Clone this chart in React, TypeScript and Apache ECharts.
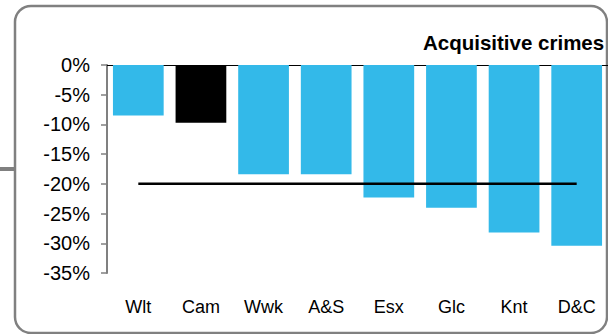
import React, { useEffect, useRef } from "react";
import * as echarts from "echarts";

const categories = ["Wlt", "Cam", "Wwk", "A&S", "Esx", "Glc", "Knt", "D&C"];
const values = [-8.5, -9.7, -18.4, -18.4, -22.3, -24.0, -28.2, -30.4];
const highlightIndex = 1;
const referenceLevel = -20;
const titleText = "Acquisitive crimes";
const yMin = -35;
const yMax = 0;
const yStep = 5;

export default function App() {
  const ref = useRef<HTMLDivElement>(null);
  useEffect(() => {
    if (!ref.current) return;
    const chart = echarts.init(ref.current, null, { renderer: "svg" });
    const font = "Liberation Sans, Arial, sans-serif";
    chart.setOption({
      animation: false,
      backgroundColor: "#ffffff",
      textStyle: { fontFamily: font },
      grid: { left: 107, top: 65, width: 504, height: 208 },
      graphic: [
        {
          type: "rect",
          shape: { x: 15, y: 6, width: 592, height: 327, r: 16 },
          style: { fill: "none", stroke: "#808080", lineWidth: 2.5 },
          z: 0,
        },
        {
          type: "rect",
          shape: { x: 0, y: 167, width: 15, height: 4 },
          style: { fill: "#808080" },
        },
        {
          type: "text",
          x: 423,
          y: 32,
          style: {
            text: titleText,
            font: `bold 20.5px ${font}`,
            fill: "#000",
            textVerticalAlign: "top",
          },
        },
      ],
      xAxis: [
        {
          type: "category",
          data: categories,
          position: "bottom",
          axisLine: { show: false, onZero: false },
          axisTick: { show: false },
          axisLabel: { fontSize: 18, color: "#000", margin: 25, fontFamily: font },
        },
        {
          type: "category",
          data: categories,
          position: "top",
          axisLine: { show: true, onZero: false, lineStyle: { color: "#000", width: 1 } },
          axisTick: { show: false },
          axisLabel: { show: false },
        },
      ],
      yAxis: {
        type: "value",
        min: yMin,
        max: yMax,
        interval: yStep,
        axisLine: { show: true, lineStyle: { color: "#808080", width: 2 } },
        axisTick: { show: true, length: 6, lineStyle: { color: "#808080", width: 1.5 } },
        splitLine: { show: false },
        axisLabel: {
          fontSize: 20,
          color: "#000",
          margin: 17,
          fontFamily: font,
          formatter: (v: number) => `${v}%`,
        },
      },
      series: [
        {
          type: "bar",
          data: values.map((v, i) => ({
            value: v,
            itemStyle: { color: i === highlightIndex ? "#000000" : "#33b9e9" },
          })),
          barCategoryGap: "19%",
          z: 2,
        },
        {
          type: "line",
          data: categories.map(() => referenceLevel),
          symbol: "none",
          lineStyle: { color: "#000", width: 2.5 },
          z: 3,
        },
      ],
    });
    return () => chart.dispose();
  }, []);
  return (
    <div
      ref={ref}
      style={{ position: "fixed", left: 0, top: 0, width: 608, height: 334, background: "#fff" }}
    />
  );
}
